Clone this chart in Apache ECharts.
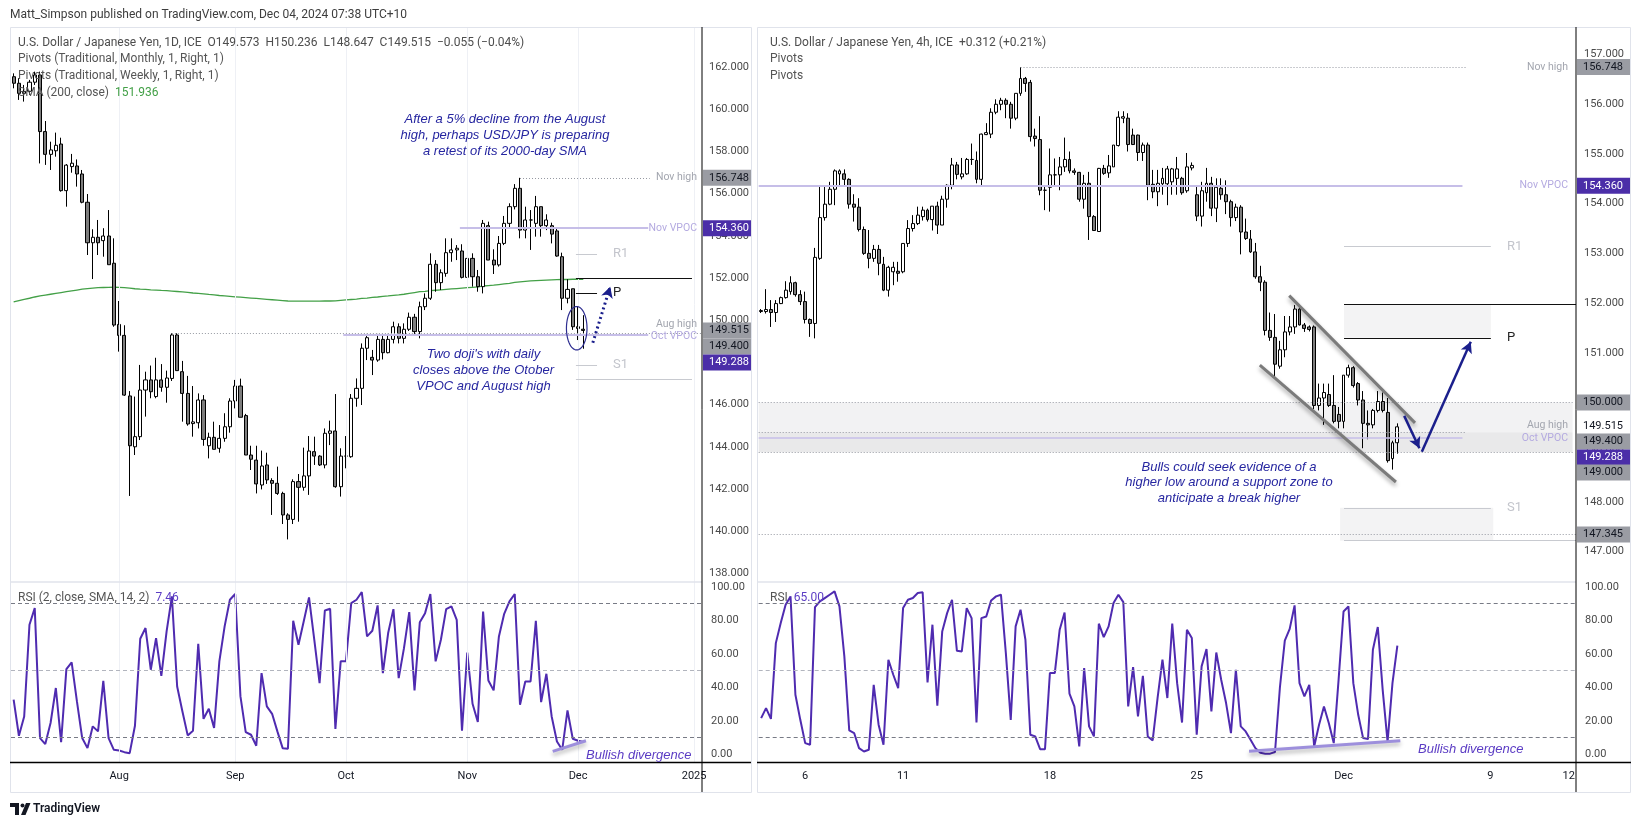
<!DOCTYPE html>
<html><head><meta charset="utf-8">
<script src="https://cdn.jsdelivr.net/npm/echarts@6/dist/echarts.min.js"></script>
<style>html,body{margin:0;padding:0;background:#fff}#c{width:1641px;height:827px}</style>
</head><body><div id="c"></div>
<script>
// ---------- DATA ----------
const dayTicks = [[20,'Aug'],[42,'Sep'],[63,'Oct'],[86,'Nov'],[107,'Dec'],[129,'2025']];
const h4Ticks = [[9,'6'],[29,'11'],[59,'18'],[89,'25'],[119,'Dec'],[149,'9'],[165,'12']];
const leftPriceTicks = [138,140,142,144,146,148,150,152,154,156,158,160,162];
const rightPriceTicks = [147,148,149,150,151,152,153,154,155,156,157];
const rsiTicks = [0,20,40,60,80,100];
const rsiBands = [90,50,10];
// daily candles [open, close, low, high]
const dailyCandles = [
[161.54,161.23,160.99,161.70],[161.23,160.75,160.44,161.47],[160.75,160.85,160.36,161.15],[160.85,161.28,160.68,161.39],[161.28,161.62,161.15,161.78],
[161.62,158.94,157.43,161.78],[158.94,157.86,157.36,159.44],[157.86,158.07,157.12,158.46],[158.03,158.29,157.75,158.89],[158.35,156.14,156.09,158.65],
[156.14,157.35,155.38,157.40],[157.28,157.44,156.99,157.88],[157.31,156.93,156.33,157.62],[156.93,155.59,155.54,157.12],[155.59,153.67,153.09,155.98],
[153.67,153.93,151.95,154.31],[153.93,153.67,153.09,154.75],[153.77,153.99,153.01,154.36],[153.99,152.63,152.63,155.22],[152.70,149.77,149.69,153.88],
[149.80,149.28,148.51,150.91],[149.28,146.45,146.41,149.76],[146.41,144.05,141.67,146.64],[144.00,144.48,143.61,146.38],[144.48,146.69,144.32,147.88],
[146.69,147.17,145.43,147.56],[147.17,146.61,146.30,147.85],[146.38,147.17,146.30,148.22],[147.17,146.82,146.61,147.92],[146.82,147.26,146.09,147.61],
[147.24,149.30,147.12,149.38],[149.30,147.61,147.61,149.38],[147.56,146.53,145.19,148.07],[146.53,145.08,145.00,147.36],[145.10,145.18,144.48,146.88],
[145.14,146.22,144.87,146.53],[146.22,144.35,144.05,146.45],[144.05,144.45,143.45,144.67],[144.45,143.88,143.88,145.19],[143.93,144.40,143.72,145.03],
[144.40,144.95,144.24,145.59],[144.95,146.17,144.67,146.30],[146.17,146.88,145.82,147.17],[146.88,145.40,145.40,147.23],[145.48,143.61,143.61,145.56],
[143.61,143.41,142.90,144.05],[143.37,142.24,141.79,144.05],[142.19,143.09,141.98,143.82],[143.14,142.43,142.24,143.72],[142.40,142.27,140.77,142.51],
[142.27,141.79,141.72,143.06],[141.79,140.77,140.34,141.87],[140.77,140.56,139.61,140.85],[140.56,142.35,140.34,142.46],[142.35,142.08,140.45,142.71],
[142.08,142.62,141.92,143.96],[142.62,143.80,141.72,144.51],[143.77,143.56,143.14,144.48],[143.56,143.14,143.09,143.60],[143.14,144.64,142.98,144.87],
[144.64,144.75,144.08,145.24],[144.75,142.11,142.06,146.50],[142.11,143.56,141.64,143.93],[143.56,143.56,142.98,144.51],[143.53,146.30,143.48,146.50],
[146.30,146.77,145.90,147.24],[146.77,148.67,145.98,148.90],[148.67,149.17,148.11,149.35],[148.24,148.11,147.40,148.59],[148.11,149.09,148.03,149.35],
[149.09,148.46,148.14,149.35],[148.46,149.09,148.43,149.35],[149.09,149.69,148.90,149.93],[149.69,149.14,148.90,149.85],[149.14,149.57,148.90,149.85],
[149.57,150.14,149.49,150.36],[150.14,149.46,149.30,150.30],[149.46,150.64,149.14,150.88],[150.64,151.04,150.48,151.27],[151.04,152.65,150.96,153.17],
[152.65,151.78,151.35,152.85],[151.78,152.25,151.43,152.41],[152.22,153.20,152.06,153.88],[153.20,153.33,152.77,153.88],[153.33,153.41,152.85,153.56],
[153.28,152.03,151.98,153.60],[152.03,152.93,151.90,153.17],[152.93,152.06,151.59,153.17],[152.06,151.59,151.35,152.38],[151.59,154.59,151.27,154.75],
[154.48,152.85,152.85,154.67],[152.85,152.62,152.19,153.36],[152.62,153.64,152.54,153.99],[153.64,154.59,153.56,154.94],[154.59,155.38,154.40,155.54],
[155.38,156.25,155.25,156.45],[156.25,154.27,153.88,156.748],[154.27,154.75,153.88,155.38],[154.75,154.75,153.33,155.22],[154.59,155.38,153.96,155.89],
[155.38,154.48,153.96,155.38],[154.48,154.75,154.27,155.02],[154.48,154.08,153.64,154.62],[154.23,153.04,153.01,154.35],[153.01,151.04,150.48,153.20],
[151.04,151.46,150.80,151.94],[151.49,149.69,149.54,151.49],[149.69,149.61,149.06,150.64],[149.573,149.515,148.647,150.236]
];
const dailySMA = [150.87,150.93,150.99,151.04,151.10,151.15,151.19,151.23,151.27,151.31,151.35,151.39,151.43,151.47,151.50,151.52,151.54,151.55,151.56,151.57,
151.56,151.54,151.52,151.49,151.47,151.46,151.44,151.43,151.41,151.40,151.38,151.36,151.34,151.32,151.29,151.27,151.25,151.22,151.20,151.17,
151.15,151.13,151.11,151.09,151.07,151.05,151.03,151.01,150.99,150.97,150.95,150.93,150.91,150.90,150.90,150.90,150.90,150.90,150.90,150.91,
150.91,150.92,150.94,150.96,150.98,151.00,151.03,151.05,151.08,151.10,151.13,151.15,151.18,151.20,151.23,151.27,151.31,151.35,151.37,151.40,
151.42,151.44,151.46,151.48,151.50,151.52,151.54,151.56,151.58,151.62,151.64,151.66,151.69,151.72,151.75,151.79,151.82,151.84,151.86,151.88,
151.89,151.90,151.91,151.92,151.93,151.93,151.94,151.94,151.936];
const dailyRSI = [32.7,11.2,22.7,77.5,87.4,9.8,6.2,18.8,39.7,7.4,51.0,55.0,31.7,9.8,3.8,16.8,13.8,44.0,9.8,2.8,
2.4,1.4,0.8,17.2,69.1,75.5,50.6,69.5,47.0,73.5,94.4,40.6,25.7,11.4,14.2,66.1,21.3,27.3,15.8,55.6,
76.5,92.4,95.8,34.7,13.4,11.8,5.2,48.6,28.7,24.3,13.8,3.8,3.4,79.8,65.5,79.5,93.8,68.5,42.6,86.0,
87.0,15.2,55.6,55.6,90.4,92.4,97.0,70.5,73.9,89.0,48.6,72.5,86.8,45.6,63.5,85.0,38.3,78.9,84.4,95.8,
55.6,68.5,86.8,88.4,80.4,14.2,60.9,30.3,19.4,85.4,44.2,38.3,70.5,84.0,91.4,95.8,29.7,43.6,43.6,79.8,
31.3,48.2,22.7,7.8,2.8,26.3,9.4,8.2,7.46];
// 4h candles [open, close, low, high]
const h4Candles = [
[151.83,151.85,151.80,151.88],[151.83,151.87,151.79,152.28],[151.87,151.81,151.52,152.06],[151.81,151.99,151.62,152.06],[151.99,152.11,151.98,152.13],
[152.11,152.26,152.09,152.44],[152.23,152.41,152.17,152.54],[152.41,152.17,152.13,152.43],[152.17,152.03,151.96,152.26],[152.03,151.67,151.59,152.23],
[151.67,151.59,151.32,151.69],[151.59,152.92,151.29,153.11],[152.90,153.72,152.87,154.34],[153.72,153.99,153.66,154.34],[153.99,154.29,153.97,154.44],
[154.29,154.66,153.97,154.69],[154.60,154.66,154.34,154.69],[154.60,154.49,154.34,154.69],[154.49,153.99,153.90,154.51],[153.99,153.93,153.64,154.19],
[153.93,153.48,153.44,154.11],[153.48,153.00,152.97,153.54],[153.00,152.90,152.70,153.47],[152.90,153.08,152.83,153.17],[153.08,152.80,152.56,153.17],
[152.78,152.26,152.24,152.93],[152.26,152.72,152.13,152.75],[152.63,152.72,152.36,152.83],[152.64,152.60,152.43,152.83],[152.63,153.20,152.60,153.20],
[153.20,153.50,153.13,153.67],[153.50,153.60,153.44,153.77],[153.60,153.77,153.57,153.94],[153.74,153.87,153.66,153.94],[153.87,153.68,153.64,153.90],
[153.68,153.95,153.46,153.95],[153.95,153.57,153.39,154.04],[153.57,154.09,153.57,154.16],[154.09,154.37,153.92,154.39],[154.37,154.78,154.29,154.92],
[154.78,154.59,154.49,154.84],[154.54,154.60,154.49,154.92],[154.60,154.89,154.58,154.92],[154.89,154.89,154.78,155.21],[154.87,154.49,154.41,155.05],
[154.49,155.40,154.34,155.41],[155.39,155.43,155.38,155.62],[155.40,155.84,155.32,155.92],[155.84,156.00,155.80,156.10],[156.00,156.08,155.88,156.13],
[156.08,156.00,155.72,156.12],[156.00,155.72,155.51,156.05],[155.72,156.22,155.68,156.22],[156.22,156.52,156.17,156.748],[156.52,156.42,156.25,156.55],
[156.44,155.35,155.25,156.49],[155.36,155.31,155.15,155.51],[155.29,154.27,154.17,155.76],[154.27,154.27,153.87,154.34],[154.33,154.58,153.84,155.11],
[154.58,154.58,154.34,154.91],[154.58,154.74,154.27,154.94],[154.74,154.89,154.64,155.33],[154.89,154.66,154.61,155.05],[154.66,154.63,154.58,154.71],
[154.63,154.09,154.04,154.64],[154.09,154.41,153.90,154.58],[154.41,153.74,153.27,154.64],[153.74,153.46,153.46,153.77],[153.44,154.71,153.44,154.72],
[154.71,154.61,154.58,154.78],[154.62,154.76,154.52,154.98],[154.74,155.18,154.74,155.18],[155.17,155.74,155.15,155.86],[155.72,155.75,155.62,155.86],
[155.72,155.19,155.05,155.82],[155.38,155.19,155.18,155.51],[155.38,155.03,154.86,155.39],[155.03,155.18,154.86,155.23],[155.18,154.37,154.07,155.23],
[154.39,154.24,154.11,154.68],[154.24,154.41,153.95,154.68],[154.40,154.51,154.18,154.72],[154.40,154.70,153.97,154.76],[154.44,154.70,154.18,154.72],
[154.51,154.70,154.18,154.94],[154.51,154.22,154.18,154.54],[154.26,154.74,154.22,155.02],[154.72,154.77,154.67,154.83],[154.18,153.75,153.65,154.36],
[153.75,154.26,153.54,154.44],[154.22,154.41,154.04,154.72],[154.41,153.91,153.75,154.54],[153.91,154.33,153.63,154.51],[154.31,154.18,154.08,154.51],
[154.18,154.04,153.79,154.47],[154.04,153.72,153.54,154.08],[153.72,153.93,153.65,154.00],[153.93,153.43,152.98,153.97],[153.43,153.30,153.27,153.70],
[153.29,153.03,153.01,153.47],[153.03,152.53,152.49,153.21],[152.53,152.42,152.24,152.75],[152.42,151.45,151.35,152.46],[151.45,151.31,151.24,151.81],
[151.31,150.77,150.48,151.78],[150.73,151.06,150.68,151.24],[151.06,151.42,150.91,151.74],[151.42,151.52,151.35,151.74],[151.52,151.88,151.38,151.96],
[151.88,151.56,151.55,151.96],[151.56,151.49,151.42,151.60],[151.52,151.47,151.43,151.55],[151.52,149.94,149.87,151.55],[149.94,150.09,149.84,150.38],
[150.09,150.20,149.55,150.38],[150.16,149.94,149.91,150.38],[149.94,149.62,149.58,150.55],[149.76,149.62,149.48,149.91],[149.62,150.55,149.48,150.55],
[150.55,150.70,150.50,150.76],[150.70,150.34,150.30,150.73],[150.38,150.05,149.94,150.41],[150.05,149.58,149.08,150.23],[149.58,149.55,149.26,149.84],
[149.55,149.84,149.48,149.87],[149.84,150.02,149.80,150.23],[150.02,149.84,149.80,150.20],[149.80,148.83,148.79,150.09],[148.87,149.19,148.65,149.23],
[149.19,149.51,148.97,149.58]
];
const h4RSI = [21.7,27.7,21.3,66.5,78.5,89.4,94.4,35.7,20.7,6.8,5.8,88.0,91.4,93.4,95.4,97.4,88.4,58.6,14.4,12.8,
3.8,1.8,2.8,41.6,17.8,5.8,56.6,47.6,39.6,87.4,92.4,93.4,96.4,96.8,43.0,77.5,29.1,73.5,84.4,92.4,
61.9,61.5,87.4,81.4,19.1,81.4,82.4,92.0,94.4,95.4,60.5,20.7,76.5,86.4,68.5,11.8,10.8,3.2,3.2,48.6,
48.6,74.5,84.8,36.3,28.7,4.8,51.6,16.8,10.8,78.1,70.1,76.5,90.4,95.4,91.0,28.7,52.2,22.7,47.0,10.8,
8.4,33.7,56.6,33.7,78.1,42.6,19.1,74.5,69.5,11.8,52.6,62.9,25.7,60.9,44.6,30.7,12.8,50.6,16.8,13.8,
8.8,3.8,1.0,0.5,0.5,1.5,40.0,68.0,75.0,89.0,42.6,34.7,41.6,4.8,17.8,28.7,18.7,6.8,45.0,85.4,
88.4,42.6,23.7,9.8,9.2,62.5,76.1,38.6,7.5,42.6,65.0];
const levels = {novHigh:156.748, novVPOC:154.360, augHigh:149.400, octVPOC:149.288, last:149.515,
  monthP:151.98, weekP:151.30, weekR1:153.14, weekS1:147.88, monthS1:147.22, zoneTop:150.000, zoneBot:149.000, low147:147.345};

// ---------- LAYOUT ----------
const NL = 131, NR = 167;
const catsL = Array.from({length:NL},(_,i)=>String(i));
const catsR = Array.from({length:NR},(_,i)=>String(i));
const tickMapL = new Map(dayTicks), tickMapR = new Map(h4Ticks);
const FONT = 'Roboto';
const INK = '#4a4a4a';
const NAVY = '#1b1f8c';

function catAxis(grid, cats, map, show){
  return {type:'category', gridIndex:grid, data:cats, boundaryGap:true,
    axisLine:{show:false}, axisTick:{show:false}, splitLine:{show:false},
    axisLabel:{show:show, interval:(i)=>map.has(i), formatter:(v,i)=>map.get(i)||'', color:'#131722', fontSize:11, fontFamily:FONT, margin:9}};
}
function valX(grid, n){ return {type:'value', gridIndex:grid, min:-0.5, max:n-0.5, show:false}; }
function yAx(grid, min, max, ticks, dig, margin){
  return {type:'value', gridIndex:grid, position:'right', min, max,
    axisLine:{show:false}, axisTick:{show:false}, splitLine:{show:false},
    axisLabel:{customValues:ticks, formatter:v=>v.toFixed(dig), align:'left', margin, color:INK, fontSize:11, fontFamily:FONT}};
}
const seg = (x1,y1,x2,y2,ls,endSym)=>[{coord:[x1,y1],symbol:'none'},{coord:[x2,y2],symbol:endSym||'none',symbolSize:endSym?[9,11]:0,lineStyle:ls}];
const dotted = {type:[1,2], color:'#9598a1', width:1};
const vpoc = {type:'solid', color:'#c6bee8', width:2};
const blk = {type:'solid', color:'#111', width:1};
const lgt = {type:'solid', color:'#c8cad0', width:1};
const chan = {type:'solid', color:'#7b7b7b', width:3, shadowBlur:4, shadowColor:'rgba(0,0,0,0.35)', shadowOffsetY:3};
const arrowStyle = {type:'solid', color:NAVY, width:2.5};
const div = {type:'solid', color:'#9d8fdc', width:3, shadowBlur:4, shadowColor:'rgba(0,0,0,0.3)', shadowOffsetY:3};
const candleStyle = {color:'#ffffff', color0:'#7d7d7d', borderColor:'#000', borderColor0:'#000', borderColorDoji:'#000', borderWidth:1};
const bandLine = v => ({yAxis:v, lineStyle:{type:[4,3], color: v===50?'#b2b5be':'#787b86', width:1}});
const vgrid = {symbol:'none', silent:true, label:{show:false}, lineStyle:{color:'#eef0f5', width:1, type:'solid'},
  data: dayTicks.map(t=>({xAxis:t[0]}))};

const option = {
  animation:false, backgroundColor:'#ffffff',
  grid:[
    {left:11, top:27, width:691, height:555},
    {left:11, top:582, width:691, height:180},
    {left:758.7, top:27, width:817.3, height:555},
    {left:758.7, top:582, width:817.3, height:180}
  ],
  xAxis:[
    catAxis(0,catsL,tickMapL,false), catAxis(1,catsL,tickMapL,true),
    catAxis(2,catsR,tickMapR,false), catAxis(3,catsR,tickMapR,true),
    valX(0,NL), valX(1,NL), valX(2,NR), valX(3,NR)
  ],
  yAxis:[
    yAx(0,137.592,163.896,leftPriceTicks,3,7),
    yAx(1,-4.478,102.985,rsiTicks,2,9),
    yAx(2,146.388,157.555,rightPriceTicks,3,8),
    yAx(3,-4.478,102.985,rsiTicks,2,9)
  ],
  series:[
    {type:'line', xAxisIndex:6, yAxisIndex:2, data:[], z:1, silent:true,
      markArea:{silent:true, data:[
        [{coord:[-0.5,levels.zoneTop], itemStyle:{color:'#f2f2f3'}},{coord:[165.8,levels.augHigh]}],
        [{coord:[-0.5,levels.augHigh], itemStyle:{color:'#e9e9ea'}},{coord:[165.8,levels.zoneBot]}],
        [{coord:[119.1,levels.monthP], itemStyle:{color:'#f3f3f4'}},{coord:[149.1,levels.weekP]}],
        [{coord:[118.3,levels.weekS1], itemStyle:{color:'#f3f3f4'}},{coord:[149.6,levels.monthS1]}]
      ]}},
    {type:'line', xAxisIndex:4, yAxisIndex:0, data:[], z:1, markLine:vgrid},
    {type:'line', xAxisIndex:5, yAxisIndex:1, data:[], z:1, markLine:vgrid},
    {type:'line', xAxisIndex:4, yAxisIndex:0, data:[], z:2,
      markLine:{silent:true, symbol:'none', label:{show:false}, data:[
        seg(96,levels.novHigh,120.6,levels.novHigh,dotted),
        seg(84.6,levels.novVPOC,120.3,levels.novVPOC,vpoc),
        seg(30,levels.augHigh,130.5,levels.augHigh,dotted),
        seg(62.5,levels.octVPOC,120.3,levels.octVPOC,vpoc),
        seg(106.6,levels.weekR1,110.6,levels.weekR1,lgt),
        seg(106.6,levels.weekP,110.6,levels.weekP,blk),
        seg(106.6,levels.weekS1,110.6,levels.weekS1,lgt),
        seg(106.6,levels.monthP,128.6,levels.monthP,blk),
        seg(106.6,levels.monthS1,128.6,levels.monthS1,lgt)
      ]}},
    {type:'line', xAxisIndex:6, yAxisIndex:2, data:[], z:2,
      markLine:{silent:true, symbol:'none', label:{show:false}, data:[
        seg(53,levels.novHigh,144.1,levels.novHigh,dotted),
        seg(-0.5,levels.novVPOC,143.3,levels.novVPOC,vpoc),
        seg(-0.5,levels.zoneTop,165.8,levels.zoneTop,dotted),
        seg(-0.5,levels.zoneBot,165.8,levels.zoneBot,dotted),
        seg(-0.5,levels.low147,166.5,levels.low147,dotted),
        seg(-0.5,levels.augHigh,144.1,levels.augHigh,dotted),
        seg(-0.5,levels.octVPOC,143.3,levels.octVPOC,{type:'solid', color:'#c6bee8', width:1.5}),
        seg(119.1,levels.weekR1,149.1,levels.weekR1,lgt),
        seg(119.1,levels.monthP,166.5,levels.monthP,blk),
        seg(119.1,levels.weekP,149.1,levels.weekP,blk),
        seg(119.1,levels.weekS1,149.1,levels.weekS1,lgt),
        seg(119.1,levels.monthS1,166.5,levels.monthS1,lgt)
      ]}},
    {type:'candlestick', xAxisIndex:0, yAxisIndex:0, data:dailyCandles, barWidth:3.6, itemStyle:candleStyle, z:3},
    {type:'line', xAxisIndex:0, yAxisIndex:0, data:dailySMA, showSymbol:false, symbol:'none', lineStyle:{color:'#43a047', width:1.3}, z:3},
    {type:'candlestick', xAxisIndex:2, yAxisIndex:2, data:h4Candles, barWidth:3.4, itemStyle:candleStyle, z:3},
    {type:'line', xAxisIndex:1, yAxisIndex:1, data:dailyRSI, showSymbol:false, symbol:'none', lineStyle:{color:'#4f2bb0', width:2}, z:3,
      markLine:{silent:true, symbol:'none', label:{show:false}, data:rsiBands.map(bandLine)}},
    {type:'line', xAxisIndex:3, yAxisIndex:3, data:h4RSI, showSymbol:false, symbol:'none', lineStyle:{color:'#4f2bb0', width:2}, z:3,
      markLine:{silent:true, symbol:'none', label:{show:false}, data:rsiBands.map(bandLine)}},
    {type:'line', xAxisIndex:4, yAxisIndex:0, data:[], z:5,
      markLine:{silent:true, symbol:'none', label:{show:false}, data:[
        seg(109.8,148.93,113.1,151.59,{type:[2,3], color:NAVY, width:3},'arrow')
      ]}},
    {type:'custom', xAxisIndex:4, yAxisIndex:0, z:5, silent:true,
      data:[[106.75,149.62,1.95,1.03]],
      renderItem:(p,api)=>{
        const c = api.coord([api.value(0),api.value(1)]);
        const rx = api.size([api.value(2),0])[0], ry = api.size([0,api.value(3)])[1];
        const pts=[]; for(let i=0;i<60;i++){const t=i/60*Math.PI*2; pts.push([c[0]+rx*Math.cos(t), c[1]+ry*Math.sin(t)]);}
        return {type:'polygon', shape:{points:pts}, style:{fill:'none', stroke:'#2d2d90', lineWidth:1.2}};
      }},
    {type:'line', xAxisIndex:6, yAxisIndex:2, data:[], z:5,
      markLine:{silent:true, symbol:'none', label:{show:false}, data:[
        seg(107.9,152.15,133.6,149.59,chan),
        seg(101.9,150.75,129.7,148.40,chan),
        seg(131.4,149.73,134.5,149.08,arrowStyle,'arrow'),
        seg(135.0,149.01,145.0,151.22,arrowStyle,'arrow')
      ]}},
    {type:'line', xAxisIndex:5, yAxisIndex:1, data:[], z:5,
      markLine:{silent:true, symbol:'none', label:{show:false}, data:[seg(102.2,1.9,108.5,8.2,div)]}},
    {type:'line', xAxisIndex:7, yAxisIndex:3, data:[], z:5,
      markLine:{silent:true, symbol:'none', label:{show:false}, data:[seg(99.7,1.9,130.6,8.2,div)]}}
  ]
};

const chart = echarts.init(document.getElementById('c'));
chart.setOption(option);

// ---------- overlay texts & frames ----------
const yL = v => chart.convertToPixel({yAxisIndex:0}, v);
const yR = v => chart.convertToPixel({yAxisIndex:2}, v);
const mctx = document.createElement('canvas').getContext('2d');
const tw = (t,f)=>{mctx.font=f; return mctx.measureText(t).width;};
const G = [];
const Z = 50;
function txt(x,y,t,fill,font,align){ G.push({type:'text', z:Z, silent:true, style:{x,y,text:t,fill,font,align:align||'left',verticalAlign:'middle'}}); }
function runs(x,y,parts,font){ let cx=x; parts.forEach(([t,c])=>{txt(cx,y,t,c,font); cx+=tw(t,font);}); }
function line(x1,y1,x2,y2,c,w){ G.push({type:'line', z:Z, silent:true, shape:{x1,y1,x2,y2}, style:{stroke:c,lineWidth:w||1}}); }
function rect(x,y,w,h,fill,stroke){ G.push({type:'rect', z:Z, silent:true, shape:{x,y,width:w,height:h}, style:{fill:fill||'none', stroke:stroke||null, lineWidth:1}}); }
function box(x,w,y,t,bg,fg){ rect(x,y-8,w,16,bg); txt(x+6,y,t,fg,'11px '+FONT); }

const LF = '12px '+FONT;
txt(10,15,'Matt_Simpson published on TradingView.com, Dec 04, 2024 07:38 UTC+10','#3d3d3d','12px '+FONT);
rect(10.5,27.5,741,765,null,'#e0e3eb');
rect(757.5,27.5,873,765,null,'#e0e3eb');
line(10,582,702,582,'#e0e3eb',1.5); line(758,582,1576,582,'#e0e3eb',1.5);
line(702,27,702,792,'#000',1); line(1576,27,1576,792,'#000',1);
line(10,762.5,751,762.5,'#000',1.5); line(757,762.5,1631,762.5,'#000',1.5);
runs(18,43,[['U.S. Dollar / Japanese Yen, 1D, ICE  O149.573  H150.236  L148.647  C149.515  \u22120.055 (\u22120.04%)','#4d4d4d']],LF);
txt(18,59,'Pivots (Traditional, Monthly, 1, Right, 1)','#555',LF);
txt(18,76,'Pivots (Traditional, Weekly, 1, Right, 1)','#555',LF);
runs(18,93,[['SMA (200, close)  ','#555'],['151.936','#43a047']],LF);
runs(770,43,[['U.S. Dollar / Japanese Yen, 4h, ICE  +0.312 (+0.21%)','#4d4d4d']],LF);
txt(770,59,'Pivots','#555',LF); txt(770,76,'Pivots','#555',LF);
runs(18,598,[['RSI (2, close, SMA, 14, 2)  ','#555'],['7.46','#5b3cc4']],LF);
runs(770,598,[['RSI  ','#555'],['65.00','#5b3cc4']],LF);
const AF = 'italic 13px "Liberation Sans"', AC = '#2626a0';
['After a 5% decline from the August','high, perhaps USD/JPY is preparing','a retest of its 2000-day SMA'].forEach((s,i)=>txt(505,119+i*16,s,AC,AF,'center'));
["Two doji's with daily",'closes above the Otober','VPOC and August high'].forEach((s,i)=>txt(483.5,354+i*16,s,AC,AF,'center'));
['Bulls could seek evidence of a','higher low around a support zone to','anticipate a break higher'].forEach((s,i)=>txt(1229,467+i*15.7,s,AC,AF,'center'));
txt(586,755,'Bullish divergence','#5b3cc4',AF); txt(1418,749.5,'Bullish divergence','#5b3cc4',AF);
const SF = '10.5px '+FONT;
txt(697,yL(levels.novHigh),'Nov high','#a3a6af',SF,'right');
txt(697,yL(levels.novVPOC),'Nov VPOC','#b4aae0',SF,'right');
txt(697,yL(levels.augHigh)-8,'Aug high','#a3a6af',SF,'right');
txt(697,yL(levels.octVPOC)+1,'Oct VPOC','#b4aae0',SF,'right');
txt(613,yL(levels.weekR1),'R1','#c3c5cc','13px '+FONT); txt(613,yL(levels.weekP),'P','#222','13px '+FONT); txt(613,yL(levels.weekS1),'S1','#c3c5cc','13px '+FONT);
txt(1568,yR(levels.novHigh),'Nov high','#a3a6af',SF,'right');
txt(1568,yR(levels.novVPOC),'Nov VPOC','#b4aae0',SF,'right');
txt(1568,yR(levels.augHigh)-7,'Aug high','#a3a6af',SF,'right');
txt(1568,yR(levels.octVPOC)+1,'Oct VPOC','#b4aae0',SF,'right');
txt(1507,yR(levels.weekR1),'R1','#c3c5cc','13px '+FONT); txt(1507,yR(levels.weekP),'P','#222','13px '+FONT); txt(1507,yR(levels.weekS1),'S1','#c3c5cc','13px '+FONT);
const GRAY='#9a9ca3', PUR='#4b2ea8';
box(703,48,yL(levels.novHigh),'156.748',GRAY,'#131722');
box(703,48,yL(levels.novVPOC),'154.360',PUR,'#fff');
const bl = yL(levels.last);
box(703,48,bl,'149.515',GRAY,'#131722');
box(703,48,bl+16,'149.400',GRAY,'#131722');
box(703,48,bl+32,'149.288',PUR,'#fff');
box(1577,53,yR(levels.novHigh),'156.748',GRAY,'#131722');
box(1577,53,yR(levels.novVPOC),'154.360',PUR,'#fff');
box(1577,53,yR(levels.zoneTop),'150.000',GRAY,'#131722');
const br = yR(levels.last);
box(1577,53,br,'149.515','#ffffff','#131722');
box(1577,53,br+15,'149.400',GRAY,'#131722');
box(1577,53,br+31,'149.288',PUR,'#fff');
box(1577,53,br+46,'149.000',GRAY,'#131722');
box(1577,53,yR(levels.low147),'147.345',GRAY,'#131722');
G.push({type:'polygon', z:Z, silent:true, shape:{points:[[10,803],[19,803],[19,815],[15,815],[15,807],[10,807]]}, style:{fill:'#131722'}});
G.push({type:'circle', z:Z, silent:true, shape:{cx:22.5,cy:805.5,r:2}, style:{fill:'#131722'}});
G.push({type:'polygon', z:Z, silent:true, shape:{points:[[26,803],[30.5,803],[25.5,815],[21,815]]}, style:{fill:'#131722'}});
txt(33,809,'TradingView','#131722','600 12px '+FONT);

chart.setOption({graphic:G});
</script>
</body></html>
